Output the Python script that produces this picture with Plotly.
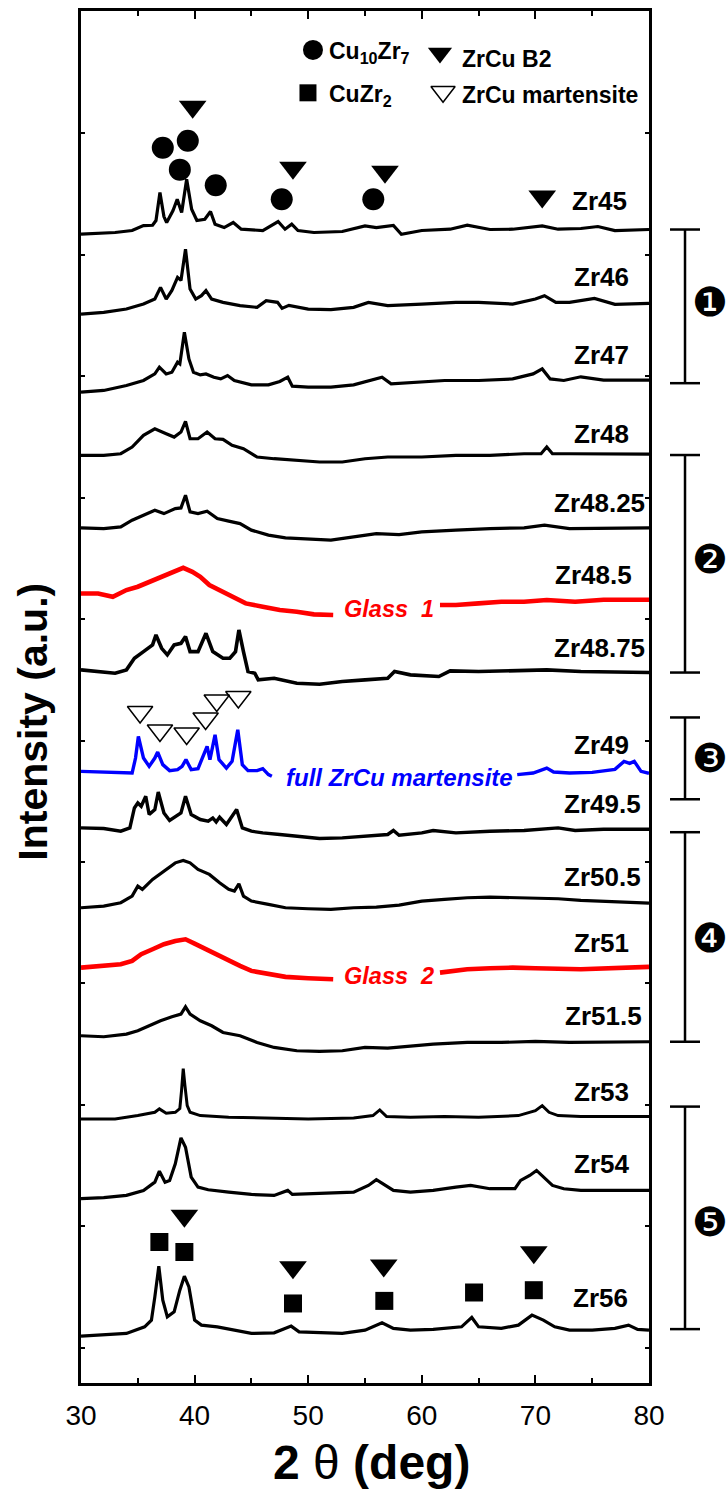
import plotly.graph_objects as go

# ---------------- data: 2theta (deg) and stacked intensity (a.u.) ----------------
tt_zr45 = [30, 33, 34.5, 35.5, 36.3, 36.6, 36.95, 37.3, 37.54, 38.1, 38.47, 38.86, 39.3, 39.74, 40.2, 40.9, 41.4, 41.8,
           42.6, 43.4, 44.1, 46.0, 47.35, 47.96, 48.55, 49.1, 50.5, 53, 55, 56, 57.5, 58.2, 60, 62.5, 64, 66, 68,
           70.6, 72, 74, 75.5, 77, 80]
i_zr45 = [1151.3, 1153, 1155, 1160, 1160.3, 1165, 1193, 1169, 1163, 1175, 1186.3, 1173, 1206.3, 1176.3, 1165, 1166.3,
          1174, 1161.3, 1158, 1163, 1156.3, 1155, 1164, 1156.3, 1161.3, 1155, 1153, 1154, 1159.7, 1158, 1160, 1151.3,
          1155, 1156.3, 1160.3, 1156, 1156.3, 1159.7, 1156.3, 1157, 1159, 1155, 1156]

tt_zr46 = [30, 32, 34, 35.5, 36.5, 37.0, 37.5, 38.0, 38.5, 38.8, 39.2, 39.4, 39.6, 40.1, 40.6, 41.0, 41.5, 42.5, 44,
           45.5, 46.3, 47.3, 47.7, 48.3, 50, 52, 54, 55.3, 57, 60, 63, 65, 68, 70.0, 70.8, 71.8, 73, 75.2, 77, 80]
i_zr46 = [1071.3, 1073, 1076.3, 1081.3, 1086.3, 1098, 1086.3, 1095, 1108, 1105, 1136.3, 1118, 1096.3, 1086.3, 1089.7,
          1094.7, 1086.3, 1083, 1079.7, 1078, 1084.7, 1083, 1077, 1080, 1076.3, 1075.7, 1078, 1083, 1079.7, 1081.3,
          1083, 1083, 1081.3, 1086.3, 1089.7, 1083, 1083, 1087, 1081, 1082]

tt_zr47 = [30, 32, 34, 35.5, 36.5, 36.9, 37.5, 38.0, 38.5, 38.7, 39.1, 39.5, 39.9, 40.5, 41.0, 41.7, 42.3, 42.9, 43.5,
           45, 46.5, 47.5, 48.2, 48.6, 50, 52, 54, 55.5, 56.5, 57.3, 59, 62, 65, 68, 69.8, 70.6, 71.3, 72.5, 74, 76, 80]
i_zr47 = [993, 994.7, 999.7, 1004.7, 1011.3, 1018, 1011.3, 1013, 1023, 1021.3, 1053, 1026.3, 1013, 1010.3, 1011.3,
          1008, 1006.3, 1009.7, 1004.7, 1000.3, 1000.3, 1003.7, 1008, 999, 998, 998, 1000.3, 1004.7, 1008, 1001.3,
          1002.3, 1004.7, 1004.7, 1006.3, 1011.3, 1016.3, 1006.3, 1004.7, 1008.4, 1005, 1005]

tt_zr48 = [30, 32, 33.5, 34.5, 35.5, 36.5, 37.5, 38.2, 38.8, 39.2, 39.6, 40.3, 41.1, 41.8, 42.5, 43.3, 44.3, 45.5, 47,
           49, 51, 53, 55, 57, 60, 63, 66, 69, 70.5, 71.0, 71.5, 73, 80]
i_zr48 = [929.7, 929.7, 931.3, 938, 949.7, 956.3, 951.3, 948, 953, 963.7, 946.3, 946.3, 953, 946.3, 945.7, 939.7,
          936.3, 928, 926.3, 924.7, 923, 923, 926.3, 928, 928, 929.7, 929.7, 931.3, 931.3, 938, 931.3, 931.3, 931]

tt_zr48_25 = [30, 32, 33.5, 34.5, 35.5, 36.5, 37.3, 38.3, 38.8, 39.2, 39.6, 40.3, 41.1, 42, 43, 44, 45, 46.5, 48, 50,
              52, 54, 56, 58, 60, 63, 66, 69, 70.8, 73, 80]
i_zr48_25 = [857, 856.3, 858, 864.7, 869.7, 874.7, 871.3, 876.3, 877, 889.7, 873, 871.3, 873.7, 866.3, 863.7, 861.3,
             854.7, 849.7, 847, 845.7, 844.7, 848, 851.3, 850.3, 853, 854.7, 856.3, 857, 859.7, 856.3, 857]

tt_zr48_5 = [30, 31.5, 32.8, 34, 35, 36, 37, 38, 39, 39.8, 40.5, 41.3, 42.5, 43.5, 44.5, 46, 47.5, 49, 50.5, 52.2,
             None, 61.6, 63, 65, 67, 69, 71, 73.5, 76, 80]
i_zr48_5 = [791.3, 791.3, 788, 794.7, 798, 803, 808, 813, 817, 813, 808, 799.7, 793, 788, 781.3, 778, 774.7, 773,
            770.3, 769.7, None, 779.7, 779.7, 781.3, 783, 783, 784.7, 783, 785, 785]

tt_zr48_75 = [30, 31.5, 33, 34, 34.7, 35.5, 36.3, 36.6, 37.1, 37.6, 38.2, 38.8, 39.2, 39.6, 40.3, 41.0, 41.6, 42.5,
              43.1, 43.6, 43.9, 44.3, 44.7, 45.3, 45.6, 47, 49, 51, 53, 55, 57, 57.6, 59, 61.5, 62.5, 65, 68, 71,
              74, 80]
i_zr48_75 = [714.7, 713, 711.3, 714.7, 726.3, 733, 739.7, 749.7, 736.3, 729.7, 739.7, 741.3, 748, 733, 733, 751.3,
             733, 726.3, 726.3, 733, 754.7, 733, 713, 711.3, 704.7, 706.3, 701.3, 700.3, 703, 704.7, 706.3, 713,
             709.7, 708, 713.7, 713, 713.7, 714.7, 713, 712]

tt_zr49 = [30, 32, 34.5, 34.8, 35.05, 35.5, 36.0, 36.5, 36.75, 37.2, 37.8, 38.5, 38.9, 39.24, 39.7, 40.3, 40.8, 41.1,
           41.35, 41.8, 42.15, 42.8, 43.3, 43.8, 44.2, 44.7, 45.5, 46.0, 46.5, 46.8, None, 68.4, 69.8, 71.0, 71.6,
           73, 75, 77, 77.8, 78.3, 78.7, 79.3, 80]
i_zr49 = [613, 612.3, 611.3, 626.3, 648, 626.3, 618, 626.3, 632.3, 619.7, 613.7, 614.7, 618, 624.7, 614.7, 615.7,
          629.7, 638, 624.7, 649.7, 624.7, 616.3, 623, 654.7, 619.7, 613.7, 613.7, 615.7, 609.7, 608, None, 609.7,
          611.3, 616.3, 612.3, 611.3, 612, 615, 623, 621, 623, 613, 611]

tt_zr49_5 = [30, 32, 33.5, 34.3, 34.7, 35.0, 35.3, 35.7, 36.0, 36.5, 36.8, 37.3, 37.8, 38.3, 38.8, 39.2, 39.7, 40.5,
             41.2, 41.6, 41.9, 42.2, 42.8, 43.7, 44.2, 45, 46, 47.5, 49, 51, 53, 55, 57.0, 57.5, 58, 60, 61, 63, 66,
             69, 72, 73.5, 76, 80]
i_zr49_5 = [556.3, 555.7, 553, 556.3, 576.3, 581.3, 578, 588, 569.7, 574.7, 592.3, 571.3, 563.7, 568, 571.3, 588,
            569.7, 564.7, 563, 566.3, 562.3, 567, 559.7, 574.7, 556.3, 553, 551.3, 549.7, 548, 545.7, 546.3, 548,
            549.7, 553.7, 549, 551.3, 553.7, 551.3, 553, 553.7, 556.3, 553.7, 555, 555]

tt_zr50_5 = [30, 32, 33.5, 34.5, 35.0, 35.4, 36.3, 37.3, 38.3, 39.0, 39.6, 40.3, 41.3, 42.2, 43.0, 43.5, 43.9, 44.3,
             45, 46.5, 48, 50, 52, 54, 56, 58, 60, 62, 64, 66, 68, 70, 72, 74, 80]
i_zr50_5 = [476.3, 478, 481.3, 488, 498, 494.7, 504.7, 513, 521.3, 523.7, 521.3, 514.7, 509.7, 501.3, 494.7, 493,
            500.3, 488, 483, 479.7, 476.3, 475.3, 474.7, 476.3, 477, 479, 483, 484.7, 486.3, 487, 486.3, 486.3,
            485.3, 483.7, 481]

tt_zr51 = [30, 32, 33.5, 34.5, 35.3, 36.3, 37.3, 38.3, 39.2, 40.0, 41.0, 42.0, 43.0, 44.0, 45.0, 46.5, 48, 50, 52.2,
           None, 61.6, 64, 66, 68, 70, 72, 74, 80]
i_zr51 = [416.3, 418, 419.7, 423, 429.7, 434.7, 439.7, 443, 444.7, 440.3, 434.7, 428, 423, 418, 413, 409.7, 407,
          405.7, 404.7, None, 411.3, 414.7, 415.7, 416.3, 415.7, 415.7, 414.7, 417]

tt_zr51_5 = [30, 32, 34, 35, 36, 37, 38, 38.8, 39.2, 39.6, 40.5, 41.5, 42.5, 44, 45.5, 47, 49, 51, 53, 55, 57, 59, 61,
             64, 67, 70, 73, 80]
i_zr51_5 = [348, 347, 349.7, 353, 358, 363, 367, 369.7, 377, 369.7, 363, 358, 351.3, 348, 341.3, 336.3, 333, 332.3,
            333, 336.3, 335.7, 338, 339.7, 341.3, 341.3, 342.3, 341.3, 342]

tt_zr53 = [30, 33, 35, 36.5, 36.9, 37.5, 38.3, 38.7, 38.85, 39.0, 39.15, 39.35, 39.6, 40.5, 43, 46, 50, 54, 55.7, 56.3,
           56.9, 59, 62, 65, 68.5, 70.0, 70.6, 71.2, 72, 74, 80]
i_zr53 = [264.7, 264.7, 268, 271.3, 274.7, 270.3, 271.3, 275, 293, 315, 298, 278, 271.3, 268, 266.3, 265.7, 264.7,
          265.7, 268, 273.7, 267, 266.3, 267, 266.3, 268, 273, 278, 271.3, 268, 267, 267]

tt_zr54 = [30, 32, 34, 35.5, 36.5, 36.9, 37.4, 37.8, 38.3, 38.8, 39.2, 39.7, 40.3, 41.2, 43, 45, 47, 48.2, 48.6, 50,
           52, 54, 55.3, 56.0, 56.8, 57.5, 59, 61, 63, 64.3, 66, 68.2, 68.7, 69.5, 70.1, 70.7, 71.5, 72.5, 74, 80]
i_zr54 = [184.7, 185.7, 188, 193, 201.3, 212.3, 201.3, 203, 219.7, 245.7, 236.3, 206.3, 196.3, 193.7, 191.3, 189, 188,
          193, 189, 189.7, 190.3, 191.3, 198, 203.7, 198, 193, 191.3, 193, 196.3, 198, 194.7, 194.7, 203, 208, 213,
          206.3, 198, 194.7, 193, 193]

tt_zr56 = [30, 32, 34, 35.6, 36.2, 36.5, 36.85, 37.2, 37.6, 38.2, 38.7, 39.1, 39.5, 40.0, 40.6, 42, 43.5, 45, 47, 48.5,
           49.2, 51, 53, 55, 56.5, 57.5, 59, 61, 63.5, 64.4, 65.0, 67, 68.5, 69.7, 70.7, 71.7, 73, 75, 77, 78.2, 79, 80]
i_zr56 = [47, 48, 49.7, 56.3, 63, 86.3, 117, 83, 66.3, 71.3, 93, 107, 96.3, 63, 58, 56.3, 53, 49.7, 50.3, 57, 51.3,
          50.3, 49.7, 53, 60.3, 54.7, 53, 53.7, 56.3, 65.7, 56.3, 54.7, 58, 68, 63, 56.3, 53, 53, 54.7, 58, 53.7, 53]

sample_names = ["Zr45", "Zr46", "Zr47", "Zr48", "Zr48.25", "Zr48.5", "Zr48.75", "Zr49", "Zr49.5", "Zr50.5",
                "Zr51", "Zr51.5", "Zr53", "Zr54", "Zr56"]

# phase markers (2theta, height in a.u.)
cu10zr7_tt = [37.2, 39.4, 38.7, 41.86, 47.67, 55.73]
cu10zr7_i = [1238, 1245, 1216, 1200.3, 1186.3, 1186.3]
b2_tt = [39.83, 48.66, 56.76, 70.6, 39.1, 48.66, 56.65, 69.86]
b2_i = [1279, 1218, 1214, 1189, 167.7, 116, 117.7, 131]
mart_tt = [35.2, 36.95, 39.3, 40.97, 41.95, 43.85]
mart_i = [672.5, 654, 651, 666, 684, 687.5]
cuzr2_tt = [36.9, 39.1, 48.66, 56.7, 64.6, 69.86]
cuzr2_i = [141.3, 131.3, 79.7, 82.3, 90.7, 93]

x_ticks = [30, 40, 50, 60, 70, 80]

# ---------------- figure ----------------
Y0, Y1 = 0, 1375
FONT = "Liberation Sans, Arial, sans-serif"
fig = go.Figure()

BW = 3.2
curves = [
    (tt_zr45, i_zr45, "black", BW), (tt_zr46, i_zr46, "black", BW), (tt_zr47, i_zr47, "black", BW),
    (tt_zr48, i_zr48, "black", BW), (tt_zr48_25, i_zr48_25, "black", BW), (tt_zr48_5, i_zr48_5, "#ff0000", 4.6),
    (tt_zr48_75, i_zr48_75, "black", 3.6), (tt_zr49, i_zr49, "#0000ff", 3.4), (tt_zr49_5, i_zr49_5, "black", 3.4),
    (tt_zr50_5, i_zr50_5, "black", BW), (tt_zr51, i_zr51, "#ff0000", 4.6), (tt_zr51_5, i_zr51_5, "black", BW),
    (tt_zr53, i_zr53, "black", 3.0), (tt_zr54, i_zr54, "black", BW), (tt_zr56, i_zr56, "black", BW),
]
for (xs, ys, col, w), name in zip(curves, sample_names):
    fig.add_trace(go.Scatter(x=xs, y=ys, mode="lines", name=name, connectgaps=False,
                             line=dict(color=col, width=w), hoverinfo="skip"))

fig.add_trace(go.Scatter(x=cu10zr7_tt, y=cu10zr7_i, mode="markers",
                         marker=dict(symbol="circle", size=22, color="black", line=dict(width=0))))
fig.add_trace(go.Scatter(x=b2_tt, y=b2_i, mode="markers",
                         marker=dict(symbol="triangle-down", size=24, color="black", line=dict(width=0))))
fig.add_trace(go.Scatter(x=mart_tt, y=mart_i, mode="markers",
                         marker=dict(symbol="triangle-down-open", size=22, color="black", line=dict(width=1.5))))
fig.add_trace(go.Scatter(x=cuzr2_tt, y=cuzr2_i, mode="markers",
                         marker=dict(symbol="square", size=18, color="black", line=dict(width=0))))

# legend symbols (inside plot, top)
fig.add_trace(go.Scatter(x=[50.42], y=[1336], mode="markers", marker=dict(symbol="circle", size=20, color="black")))
fig.add_trace(go.Scatter(x=[49.98], y=[1293], mode="markers", marker=dict(symbol="square", size=17, color="black")))
fig.add_trace(go.Scatter(x=[61.6], y=[1333], mode="markers", marker=dict(symbol="triangle-down", size=21, color="black")))
fig.add_trace(go.Scatter(x=[61.87], y=[1294], mode="markers",
                         marker=dict(symbol="triangle-down-open", size=21, color="black", line=dict(width=1.5))))

ann = []
def add_text(x, y, text, size, color="black", xanchor="left", xref="x", yref="y", angle=0):
    ann.append(dict(x=x, y=y, xref=xref, yref=yref, text=text, showarrow=False, xanchor=xanchor, yanchor="middle",
                    textangle=angle, font=dict(family=FONT, size=size, color=color)))

# legend texts
add_text(51.65, 1333, "<b>Cu<sub>10</sub>Zr<sub>7</sub></b>", 23)
add_text(51.65, 1290, "<b>CuZr<sub>2</sub></b>", 23)
add_text(63.4, 1327, "<b>ZrCu B2</b>", 23)
add_text(63.4, 1291, "<b>ZrCu martensite</b>", 23)

# sample labels
label_x = [73.05, 73.22, 73.22, 73.22, 71.46, 71.55, 71.46, 73.22, 72.34, 72.34, 73.22, 72.43, 73.22, 73.22, 73.13]
label_y = [1185, 1108.4, 1030, 951, 882, 810, 737, 639, 580, 507, 441, 368, 292, 219, 85]
for name, lx, ly in zip(sample_names, label_x, label_y):
    add_text(lx, ly, "<b>%s</b>" % name, 26)

add_text(53.0, 775.7, "<b><i>Glass\u00a0\u00a01</i></b>", 23.5, color="#ff0000")
add_text(53.0, 408, "<b><i>Glass\u00a0\u00a02</i></b>", 23.5, color="#ff0000")
add_text(47.9, 607.3, "<b><i>full ZrCu martensite</i></b>", 24, color="#0000ff")

# axis titles
add_text(0.5123, -0.0582, "<b>2 </b>\u03b8<b> (deg)</b>", 48, xanchor="center", xref="paper", yref="paper")
add_text(-0.0845, 0.482, "<b>Intensity (a.u.)</b>", 41, xanchor="center", xref="paper", yref="paper", angle=-90)

# group brackets on the right
groups = [("\u2776", 1156, 1002, 1083.4), ("\u2777", 930, 712, 826), ("\u2778", 667, 585, 626),
          ("\u2779", 552, 342, 446), ("\u277a", 277, 54, 161)]
def py(v):
    return (v - Y0) / (Y1 - Y0)
shapes = []
xl, xc0, xc1 = 1.0634, 1.037, 1.0898
for sym, top, bot, mid in groups:
    shapes.append(dict(type="line", xref="paper", yref="paper", x0=xl, x1=xl, y0=py(bot), y1=py(top),
                       line=dict(color="black", width=2.5)))
    for v in (top, bot):
        shapes.append(dict(type="line", xref="paper", yref="paper", x0=xc0, x1=xc1, y0=py(v), y1=py(v),
                           line=dict(color="black", width=2.5)))
    ann.append(dict(x=1.1074, y=py(mid), xref="paper", yref="paper", text=sym, showarrow=False, borderpad=0,
                    xanchor="center", yanchor="middle", font=dict(family="DejaVu Sans", size=40, color="black")))

fig.update_layout(
    width=728, height=1492, margin=dict(l=81, r=79, t=8, b=109),
    paper_bgcolor="white", plot_bgcolor="white", showlegend=False,
    annotations=ann, shapes=shapes,
    xaxis=dict(range=[30, 80], tickvals=x_ticks, ticktext=[str(v) for v in x_ticks], ticks="inside", ticklen=8,
               tickwidth=2, tickcolor="black", showline=True, linecolor="black", linewidth=2.5, mirror="ticks",
               showgrid=False, zeroline=False, tickfont=dict(family=FONT, size=28, color="black"),
               ticklabelstandoff=6,
               minor=dict(dtick=5, tick0=30, ticks="inside", ticklen=5, tickwidth=2, tickcolor="black", showgrid=False)),
    yaxis=dict(range=[Y0, Y1], tick0=35.3, dtick=121.7, ticks="inside", ticklen=4, tickwidth=2, tickcolor="black",
               showticklabels=False, showline=True, linecolor="black", linewidth=2.5, mirror="ticks",
               showgrid=False, zeroline=False),
)

fig.write_html("out.html")
